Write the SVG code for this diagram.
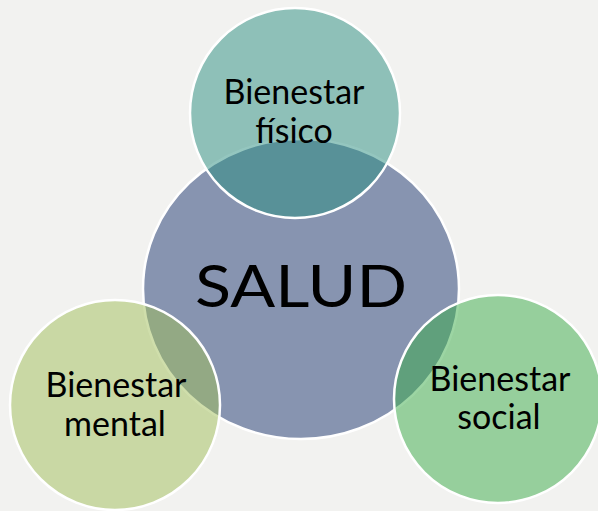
<svg xmlns="http://www.w3.org/2000/svg" width="598" height="511" viewBox="0 0 598 511">
<style>
.c{stroke:#ffffff;stroke-width:2.5}
.t{font-family:Lato,"Open Sans","Liberation Sans",sans-serif;fill:#000000;text-anchor:middle}
.s{font-size:34px}
</style>
<rect width="598" height="511" fill="#f2f2f0"/>
<g id="salud">
<ellipse class="c" cx="301" cy="289" rx="158" ry="150" fill="#8794b0"/>
<text class="t" x="301" y="307" font-size="58" textLength="212" lengthAdjust="spacingAndGlyphs">SALUD</text>
</g>
<g id="fisico">
<circle class="c" cx="295" cy="113" r="105" fill="#2a8e80" fill-opacity="0.5"/>
<text class="t s" x="294" y="104">Bienestar</text>
<text class="t s" x="294" y="143">físico</text>
</g>
<g id="mental">
<circle class="c" cx="115" cy="405" r="105" fill="#a0be58" fill-opacity="0.5"/>
<text class="t s" x="116" y="397">Bienestar</text>
<text class="t s" x="115" y="436">mental</text>
</g>
<g id="social">
<circle class="c" cx="498" cy="399" r="104" fill="#3aac48" fill-opacity="0.5"/>
<text class="t s" x="500" y="391">Bienestar</text>
<text class="t s" x="499" y="429">social</text>
</g>
</svg>
